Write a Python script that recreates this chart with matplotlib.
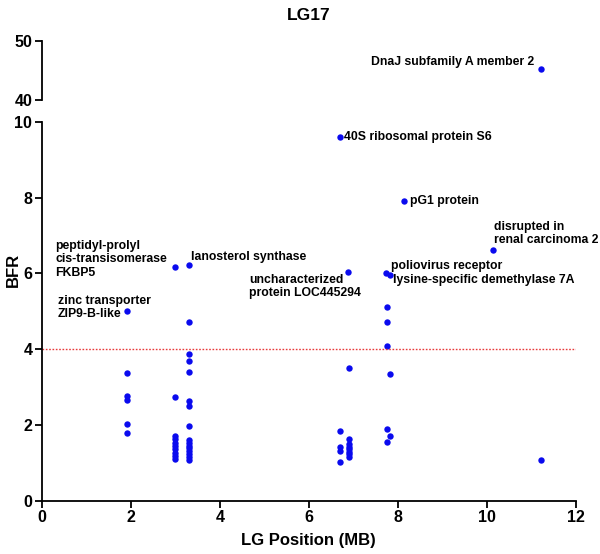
import matplotlib
matplotlib.use("Agg")
import matplotlib.pyplot as plt

plt.rcParams['font.family'] = ['Liberation Sans', 'DejaVu Sans']
plt.rcParams['font.weight'] = 'bold'

# ---- data (LG position in MB, BFR) ----
pos_a = [1.91, 1.91, 1.91, 1.91, 1.91]
bfr_a = [3.36, 2.75, 2.65, 2.02, 1.78]

pos_b = [3.0] * 9
bfr_b = [2.74, 1.71, 1.62, 1.53, 1.44, 1.36, 1.27, 1.18, 1.09]

pos_c = [3.31] * 15
bfr_c = [4.72, 3.86, 3.69, 3.39, 2.62, 2.50, 1.98,
         1.60, 1.52, 1.45, 1.38, 1.31, 1.24, 1.16, 1.08]

pos_d = [6.70, 6.70, 6.70, 6.70]
bfr_d = [1.85, 1.41, 1.32, 1.03]

pos_e = [6.91] * 8
bfr_e = [3.49, 1.63, 1.50, 1.43, 1.36, 1.29, 1.22, 1.14]

pos_f = [7.76, 7.76, 7.76, 7.76, 7.76, 7.82, 7.82, 11.22]
bfr_f = [5.12, 4.72, 4.09, 1.89, 1.54, 3.34, 1.71, 1.07]

# labelled genes
genes = ["DnaJ subfamily A member 2", "40S ribosomal protein S6", "pG1 protein",
         "disrupted in\nrenal carcinoma 2", "poliovirus receptor",
         "lysine-specific demethylase 7A", "uncharacterized\nprotein LOC445294",
         "peptidyl-prolyl\ncis-transisomerase\nFKBP5", "lanosterol synthase",
         "zinc transporter\nZIP9-B-like"]
gene_pos = [11.22, 6.70, 8.13, 10.15, 7.74, 7.83, 6.89, 3.0, 3.31, 1.91]
gene_bfr = [45.25, 9.60, 7.92, 6.61, 6.02, 5.95, 6.04, 6.16, 6.22, 5.01]
# label offsets in pixels and alignment
label_dx = [-7, 4, 6, 1, 5, 3, -99, -120, 2, -69]
label_dy = [7, 0, 0, 17, 7, -5, -15, 8, 8, 3]
label_ha = ["right", "left", "left", "left", "left", "left", "left", "left", "left", "left"]

threshold = 4
xticks = [0, 2, 4, 6, 8, 10, 12]
yticks_low = [0, 2, 4, 6, 8, 10]
yticks_high = [40, 50]

all_x = pos_a + pos_b + pos_c + pos_d + pos_e + pos_f
all_y = bfr_a + bfr_b + bfr_c + bfr_d + bfr_e + bfr_f

fig = plt.figure(figsize=(6, 5.54), dpi=100)
W, H = 600, 554
left, right = 42 / W, 575.7 / W
ax = fig.add_axes([left, 1 - 500.7 / H, right - left, (500.7 - 121.7) / H])
axu = fig.add_axes([left, 1 - 100 / H, right - left, (100 - 41) / H])

blue = '#0a0aee'
ms = 4.6
for a in (ax, axu):
    a.plot(all_x, all_y, 'o', color=blue, ms=ms, mec='none')
    a.plot(gene_pos, gene_bfr, 'o', color=blue, ms=ms, mec='none')
    a.set_xlim(0, 12)
    for s in ['top', 'right']:
        a.spines[s].set_visible(False)
    a.spines['left'].set_linewidth(1.3)
    a.spines['bottom'].set_linewidth(1.3)
    a.tick_params(direction='out', length=5, width=1.3, labelsize=11.5, pad=2)

ax.set_ylim(0, 10)
axu.set_ylim(40, 50)
ax.set_xticks(xticks)
ax.set_yticks(yticks_low)
axu.set_yticks(yticks_high)
axu.spines['bottom'].set_visible(False)
axu.set_xticks([])
for a in (ax, axu):
    for t in a.get_xticklabels() + a.get_yticklabels():
        t.set_fontweight('bold')

ax.axhline(threshold, color='#e8383a', ls=(0, (1.2, 1.2)), lw=1.0)

for g, x, y, dx, dy, ha in zip(genes, gene_pos, gene_bfr, label_dx, label_dy, label_ha):
    target = axu if y > 10 else ax
    target.annotate(g, (x, y), xytext=(dx, dy), textcoords='offset pixels',
                    ha=ha, va='center', fontsize=8.8, fontweight='bold',
                    multialignment='left', linespacing=1.15, annotation_clip=False)

fig.text(0.515, 1 - 15 / H, "LG17", ha='center', va='center', fontsize=12.5, fontweight='bold')
fig.text((left + right) / 2, 1 - 541 / H, "LG Position (MB)", ha='center', va='center',
         fontsize=12, fontweight='bold')
fig.text(13 / W, 1 - 270 / H, "BFR", ha='center', va='center', rotation=90,
         fontsize=12, fontweight='bold')

fig.savefig("out.png", dpi=100)
